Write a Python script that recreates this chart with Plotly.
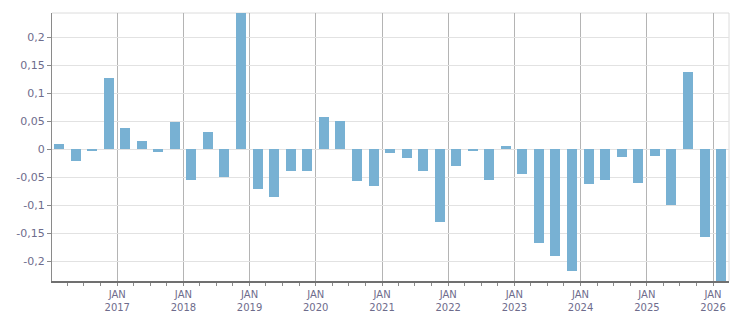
import plotly.graph_objects as go
import pandas as pd

# Quarterly values, Q1 2016 .. Q1 2026 (bars centred mid-quarter)
quarters = pd.period_range("2016Q1", "2026Q1", freq="Q")
values = [0.009, -0.021, -0.003, 0.127,
          0.0375, 0.014, -0.005, 0.048,
          -0.055, 0.030, -0.050, 0.25,
          -0.071, -0.086, -0.039, -0.039,
          0.057, 0.050, -0.057, -0.066,
          -0.007, -0.016, -0.039, -0.130,
          -0.030, -0.003, -0.055, 0.005,
          -0.045, -0.168, -0.191, -0.218,
          -0.0625, -0.055, -0.014, -0.061,
          -0.0125, -0.100, 0.1375, -0.157,
          -0.25]

y_tickvals = [-0.2, -0.15, -0.1, -0.05, 0, 0.05, 0.1, 0.15, 0.2]
y_ticktext = ["-0,2", "-0,15", "-0,1", "-0,05", "0", "0,05", "0,1", "0,15", "0,2"]

years = list(range(2017, 2027))
x_tickvals = [f"{y}-01-01" for y in years]
x_ticktext = [f"JAN<br>{y}" for y in years]
minor_vals = [str(p.start_time.date()) for p in pd.period_range("2016Q2", "2026Q1", freq="Q")]

# mid-quarter dates
x_dates = [(p.start_time + (p.end_time - p.start_time) / 2).strftime("%Y-%m-%d") for p in quarters]

fig = go.Figure(go.Bar(
    x=x_dates, y=values,
    marker=dict(color="#78b1d3", line=dict(width=0)),
    width=55 * 86400000,
))

x_font = dict(family="DejaVu Sans", size=10, color="#6e6c8c")
y_font = dict(family="DejaVu Sans", size=11, color="#6e6c8c")

fig.update_layout(
    width=751, height=313,
    margin=dict(l=52, r=22, t=13, b=32),
    plot_bgcolor="white", paper_bgcolor="white",
    showlegend=False,
    bargap=0,
    separators=",.",
    xaxis=dict(
        type="date",
        automargin=False,
        range=["2016-01-07", "2026-03-30"],
        tickvals=x_tickvals, ticktext=x_ticktext,
        tickfont=x_font,
        showgrid=True, gridcolor="#b4b4b4", gridwidth=1,
        ticks="outside", ticklen=3, tickcolor="#8a8a8a",
        minor=dict(tickvals=minor_vals, ticks="outside", ticklen=3, tickcolor="#8a8a8a", showgrid=False),
        showline=True, linecolor="#707070", linewidth=2,
        zeroline=False,
    ),
    yaxis=dict(
        automargin=False,
        range=[-0.2357, 0.243],
        tickvals=y_tickvals, ticktext=y_ticktext,
        tickfont=y_font,
        showgrid=True, gridcolor="#e2e2e2", gridwidth=1,
        zeroline=True, zerolinecolor="#e2e2e2", zerolinewidth=1,
        ticks="outside", ticklen=4, tickcolor="#8a8a8a",
        showline=True, linecolor="#8a8a8a", linewidth=1,
    ),
    shapes=[
        dict(type="line", xref="paper", yref="paper", x0=0, x1=1, y0=1, y1=1,
             line=dict(color="#dcdcdc", width=1), layer="below"),
        dict(type="line", xref="paper", yref="paper", x0=1, x1=1, y0=0, y1=1,
             line=dict(color="#dcdcdc", width=1), layer="below"),
    ],
)

fig.write_html("out.html")
